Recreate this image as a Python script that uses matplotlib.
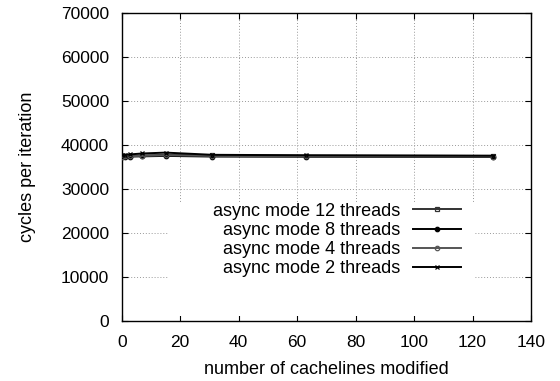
import matplotlib
matplotlib.use("Agg")
import matplotlib.pyplot as plt
from matplotlib.patches import Rectangle

# cachelines modified (2^n - 1)
cachelines = [0, 1, 3, 7, 15, 31, 63, 127]

cycles_12 = [37400, 37450, 37500, 37550, 37700, 37600, 37500, 37450]
cycles_8 = [37200, 37250, 37300, 37350, 37450, 37300, 37250, 37200]
cycles_4 = [37300, 37350, 37400, 37450, 37600, 37450, 37350, 37300]
cycles_2 = [37600, 37700, 37800, 38000, 38200, 37700, 37600, 37500]

series = [
    ("async mode 12 threads", cycles_12, "s", "#333333", "none"),
    ("async mode 8 threads", cycles_8, "o", "black", "black"),
    ("async mode 4 threads", cycles_4, "o", "#555555", "none"),
    ("async mode 2 threads", cycles_2, "x", "black", "black"),
]

plt.rcParams["font.family"] = ["Liberation Sans", "DejaVu Sans"]
plt.rcParams["font.size"] = 13

fig = plt.figure(figsize=(5.6, 3.81), dpi=100)
ax = fig.add_axes([0.2173, 0.1583, 0.731, 0.8084])

for name, vals, mk, col, fc in series:
    ax.plot(cachelines, vals, color=col, lw=1.4, marker=mk, markersize=3.2,
            markerfacecolor=fc, markeredgecolor=col, markeredgewidth=0.9,
            label=name, zorder=3)

ax.set_xlim(0, 140)
ax.set_ylim(0, 70000)
ax.set_xticks(range(0, 141, 20))
ax.set_yticks(range(0, 70001, 10000))
ax.grid(True, color="#999999", linestyle=(0, (1, 2)), linewidth=0.7)
ax.tick_params(direction="in", top=True, right=True, length=4, width=0.8,
               labelsize=12.5)
ax.tick_params(axis="y", pad=9)
ax.tick_params(axis="x", pad=10)
for s in ax.spines.values():
    s.set_linewidth(1.0)

ax.set_xlabel("number of cachelines modified", labelpad=8)
ax.set_ylabel("cycles per iteration", labelpad=18)

# white key box hides the grid behind the legend
ax.add_patch(Rectangle((0.113, 0.015), 0.75, 0.37, transform=ax.transAxes,
                       facecolor="white", edgecolor="none", zorder=1.6))

leg = ax.legend(loc="upper right", bbox_to_anchor=(0.830, 0.383),
                markerfirst=False, frameon=False, borderaxespad=0,
                borderpad=0, handlelength=2.7, handletextpad=0.69,
                labelspacing=0.12)
for t in leg.get_texts():
    t.set_ha("right")
leg._legend_box.align = "right"

fig.savefig("out.png", dpi=100)
